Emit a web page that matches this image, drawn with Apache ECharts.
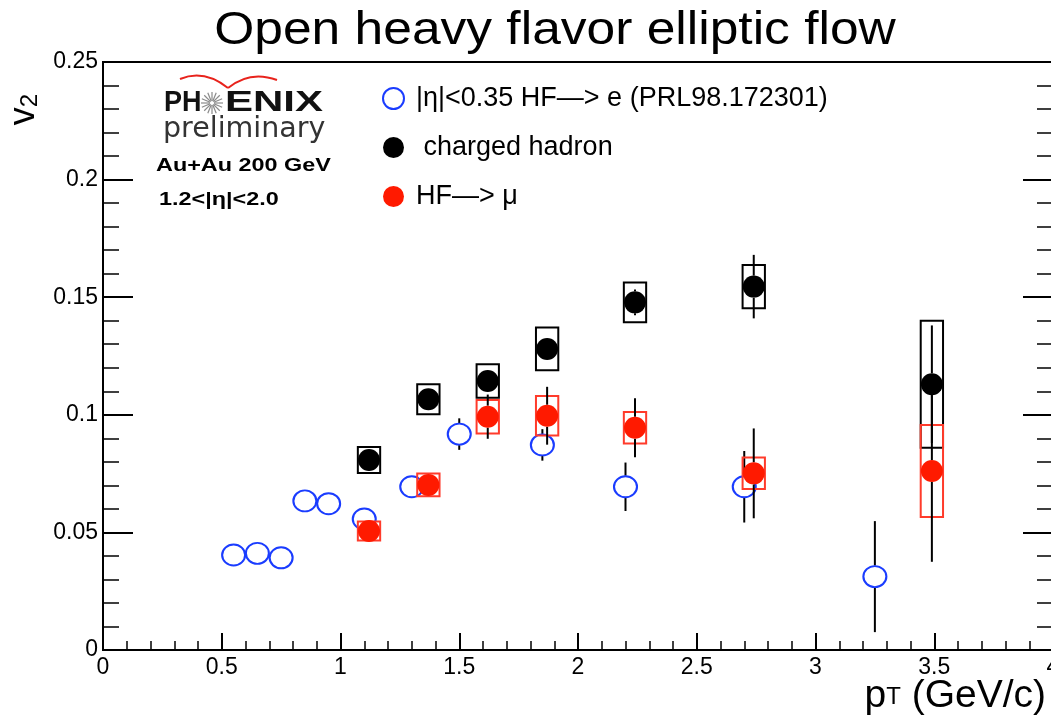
<!DOCTYPE html>
<html>
<head>
<meta charset="utf-8">
<title>Open heavy flavor elliptic flow</title>
<script src="https://cdn.jsdelivr.net/npm/echarts@6/dist/echarts.min.js"></script>
<style>
  html, body { margin: 0; padding: 0; background: #fff; }
  #chart { width: 1051px; height: 721px; }
</style>
</head>
<body>
<div id="chart"></div>
<script>
// HF -> e, |eta| < 0.35 (PRL 98, 172301)
const elePt   = [0.55, 0.65, 0.75, 0.85, 0.95, 1.1, 1.3, 1.5, 1.85, 2.2, 2.7, 3.25];
const eleV2   = [0.0404, 0.0411, 0.0392, 0.0634, 0.0622, 0.0557, 0.0694, 0.0918, 0.0872, 0.0694, 0.0694, 0.0312];
const eleStat = [0.002, 0.002, 0.002, 0.002, 0.002, 0.003, 0.004, 0.0067, 0.0067, 0.0103, 0.0152, 0.0236];

// charged hadrons, 1.2 < |eta| < 2.0
const hadPt   = [1.12, 1.37, 1.62, 1.87, 2.24, 2.74, 3.49];
const hadV2   = [0.0808, 0.1066, 0.1144, 0.128, 0.1478, 0.1545, 0.113];
const hadStat = [0.003, 0.003, 0.004, 0.004, 0.0055, 0.0135, 0.025];
const hadSys  = [0.0055, 0.0064, 0.0071, 0.0091, 0.0085, 0.0092, 0.027];

// HF -> mu, 1.2 < |eta| < 2.0
const muPt    = [1.12, 1.37, 1.62, 1.87, 2.24, 2.74, 3.49];
const muV2    = [0.0506, 0.0702, 0.0992, 0.0996, 0.0945, 0.0751, 0.0761];
const muStat  = [0.003, 0.004, 0.0094, 0.0123, 0.0125, 0.0191, 0.0386];
const muSys   = [0.004, 0.0048, 0.0071, 0.0084, 0.0067, 0.0067, 0.0196];

const legendNames = ['|η|<0.35 HF—> e (PRL98.172301)', ' charged hadron', 'HF—> μ'];

const FONT = "'Liberation Sans', Arial, Helvetica, sans-serif";
const BLUE = '#1a3cff';
const RED = '#ff1a00';
const RED_BOX = '#ff3b2b';
const BOX_HALF_WIDTH = 0.047;  // half width of systematic boxes, in GeV/c
const MARKER_GAP = 11;         // error bars stop at the marker edge (px)

// vertical statistical error bars, drawn only outside the marker
function statBars(pts, vals, errs, z) {
  return {
    type: 'custom', z: z, silent: true,
    data: pts.map((x, i) => [x, vals[i], vals[i] - errs[i], vals[i] + errs[i]]),
    encode: { x: 0, y: [1, 2, 3] },
    renderItem: (params, api) => {
      const x = api.value(0);
      const c = api.coord([x, api.value(1)]);
      const lo = api.coord([x, api.value(2)]);
      const hi = api.coord([x, api.value(3)]);
      const children = [];
      const style = { stroke: '#000', lineWidth: 2 };
      if (hi[1] < c[1] - MARKER_GAP) {
        children.push({ type: 'line', shape: { x1: c[0], y1: hi[1], x2: c[0], y2: c[1] - MARKER_GAP }, style: style });
      }
      if (lo[1] > c[1] + MARKER_GAP) {
        children.push({ type: 'line', shape: { x1: c[0], y1: c[1] + MARKER_GAP, x2: c[0], y2: lo[1] }, style: style });
      }
      return { type: 'group', children: children };
    }
  };
}

// open systematic-uncertainty boxes
function sysBoxes(pts, vals, sys, color, z) {
  return {
    type: 'custom', z: z, silent: true,
    data: pts.map((x, i) => [x, vals[i] - sys[i], vals[i] + sys[i]]),
    encode: { x: 0, y: [1, 2] },
    renderItem: (params, api) => {
      const x = api.value(0);
      const p1 = api.coord([x - BOX_HALF_WIDTH, api.value(2)]);
      const p2 = api.coord([x + BOX_HALF_WIDTH, api.value(1)]);
      return { type: 'rect', shape: { x: p1[0], y: p1[1], width: p2[0] - p1[0], height: p2[1] - p1[1] },
               style: { fill: 'none', stroke: color, lineWidth: 2 } };
    }
  };
}

function points(name, pts, vals, itemStyle, size, z) {
  return {
    type: 'scatter', name: name, z: z, symbol: 'circle', symbolSize: size,
    data: pts.map((x, i) => [x, vals[i]]),
    itemStyle: Object.assign({ opacity: 1 }, itemStyle),
    emphasis: { disabled: true }
  };
}

// PHENIX star: thin rays around a point
const starRays = [];
for (let k = 0; k < 16; k++) {
  const t = k * Math.PI / 8;
  starRays.push({
    type: 'line',
    shape: { x1: 212 + 2 * Math.cos(t), y1: 103 + 2 * Math.sin(t), x2: 212 + 11 * Math.cos(t), y2: 103 + 11 * Math.sin(t) },
    style: { stroke: '#8a8a8a', lineWidth: 1.2 }
  });
}

const axisTickStyle = { color: '#000', width: 2 };
const minorStyle = { color: '#000', width: 1.5 };

const option = {
  animation: false,
  backgroundColor: '#fff',
  grid: { left: 103, top: 62, width: 950, height: 588, containLabel: false, outerBoundsMode: 'none',
          show: true, borderColor: '#000', borderWidth: 2, backgroundColor: 'transparent' },
  xAxis: [{
    type: 'value', min: 0, max: 4, interval: 0.5, position: 'bottom',
    axisLine: { show: true, onZero: false, lineStyle: { color: '#000', width: 2 } },
    axisTick: { show: true, inside: true, length: 17, lineStyle: axisTickStyle },
    minorTick: { show: true, splitNumber: 5, length: 9, lineStyle: minorStyle },
    splitLine: { show: false },
    axisLabel: { color: '#000', fontSize: 23, fontFamily: FONT, margin: 6, showMaxLabel: true, showMinLabel: true, hideOverlap: false }
  }],
  yAxis: [{
    type: 'value', min: 0, max: 0.25, interval: 0.05, position: 'left',
    axisLine: { show: true, onZero: false, lineStyle: { color: '#000', width: 2 } },
    axisTick: { show: true, inside: true, length: 30, lineStyle: axisTickStyle },
    minorTick: { show: true, splitNumber: 5, length: 16, lineStyle: minorStyle },
    splitLine: { show: false },
    axisLabel: { color: '#000', fontSize: 23, fontFamily: FONT, margin: 5, showMaxLabel: true, showMinLabel: true }
  }, {
    type: 'value', min: 0, max: 0.25, interval: 0.05, position: 'right',
    axisLine: { show: true, onZero: false, lineStyle: { color: '#000', width: 2 } },
    axisTick: { show: true, inside: true, length: 30, lineStyle: axisTickStyle },
    minorTick: { show: true, splitNumber: 5, length: 16, lineStyle: minorStyle },
    splitLine: { show: false },
    axisLabel: { show: false }
  }],
  legend: {
    orient: 'vertical', left: 382, top: 85, padding: 0,
    itemWidth: 21, itemHeight: 21, itemGap: 22, selectedMode: false,
    textStyle: { fontSize: 27, fontFamily: FONT, color: '#000', padding: [0, 0, 0, 7] },
    data: [
      { name: legendNames[0], icon: 'circle', itemStyle: { color: 'rgba(0,0,0,0)', borderColor: BLUE, borderWidth: 2, opacity: 1 } },
      { name: legendNames[1], icon: 'circle', itemStyle: { color: '#000', borderWidth: 0, opacity: 1 } },
      { name: legendNames[2], icon: 'circle', itemStyle: { color: RED, borderWidth: 0, opacity: 1 } }
    ]
  },
  graphic: [
    { type: 'text', x: 555, y: 31, scaleX: 1.12,
      style: { text: 'Open heavy flavor elliptic flow', font: '46px ' + FONT, fill: '#000', textAlign: 'center', textVerticalAlign: 'middle' } },
    { type: 'text', x: 1046, y: 696,
      style: { text: '{a|p}{b|T}{a| (GeV/c)}', textAlign: 'right', textVerticalAlign: 'middle', fill: '#000',
               rich: { a: { fontSize: 39, fontFamily: FONT, verticalAlign: 'bottom' },
                       b: { fontSize: 24, fontFamily: FONT, verticalAlign: 'bottom', padding: [0, 0, 6, 0] } } } },
    { type: 'text', x: 24, y: 94, rotation: Math.PI / 2,
      style: { text: '{a|v}{b|2}', textAlign: 'right', textVerticalAlign: 'middle', fill: '#000',
               rich: { a: { fontSize: 36, fontFamily: FONT, verticalAlign: 'bottom' },
                       b: { fontSize: 24, fontFamily: FONT, verticalAlign: 'bottom' } } } },
    // PHENIX logo: red arc, letters, star
    { type: 'bezierCurve', shape: { x1: 180, y1: 79, x2: 228, y2: 88, cpx1: 204, cpy1: 69 },
      style: { fill: 'none', stroke: '#e8231c', lineWidth: 2 } },
    { type: 'bezierCurve', shape: { x1: 228, y1: 88, x2: 277, y2: 80, cpx1: 250, cpy1: 70 },
      style: { fill: 'none', stroke: '#e8231c', lineWidth: 2 } },
    { type: 'text', x: 164, y: 103, scaleX: 0.9,
      style: { text: 'PH', font: 'bold 30px ' + FONT, fill: '#111', textAlign: 'left', textVerticalAlign: 'middle' } },
    { type: 'group', children: starRays },
    { type: 'text', x: 225, y: 103, scaleX: 1.4,
      style: { text: 'ENIX', font: 'bold 30px ' + FONT, fill: '#111', textAlign: 'left', textVerticalAlign: 'middle' } },
    { type: 'text', x: 163, y: 130,
      style: { text: 'preliminary', font: "28.5px 'DejaVu Sans', sans-serif", fill: '#333', textAlign: 'left', textVerticalAlign: 'middle' } },
    { type: 'text', x: 156, y: 166, scaleX: 1.3,
      style: { text: 'Au+Au 200 GeV', font: 'bold 18px ' + FONT, fill: '#000', textAlign: 'left', textVerticalAlign: 'middle' } },
    { type: 'text', x: 159, y: 200, scaleX: 1.3,
      style: { text: '1.2<|η|<2.0', font: 'bold 18px ' + FONT, fill: '#000', textAlign: 'left', textVerticalAlign: 'middle' } }
  ],
  series: [
    statBars(elePt, eleV2, eleStat, 2),
    points(legendNames[0], elePt, eleV2, { color: 'rgba(0,0,0,0)', borderColor: BLUE, borderWidth: 2 }, [23, 21], 3),
    sysBoxes(hadPt, hadV2, hadSys, '#000', 4),
    statBars(hadPt, hadV2, hadStat, 5),
    points(legendNames[1], hadPt, hadV2, { color: '#000' }, 22, 6),
    sysBoxes(muPt, muV2, muSys, RED_BOX, 7),
    statBars(muPt, muV2, muStat, 8),
    points(legendNames[2], muPt, muV2, { color: RED }, 22, 9)
  ]
};

const chart = echarts.init(document.getElementById('chart'), null, { renderer: 'canvas' });
chart.setOption(option);
</script>
</body>
</html>
